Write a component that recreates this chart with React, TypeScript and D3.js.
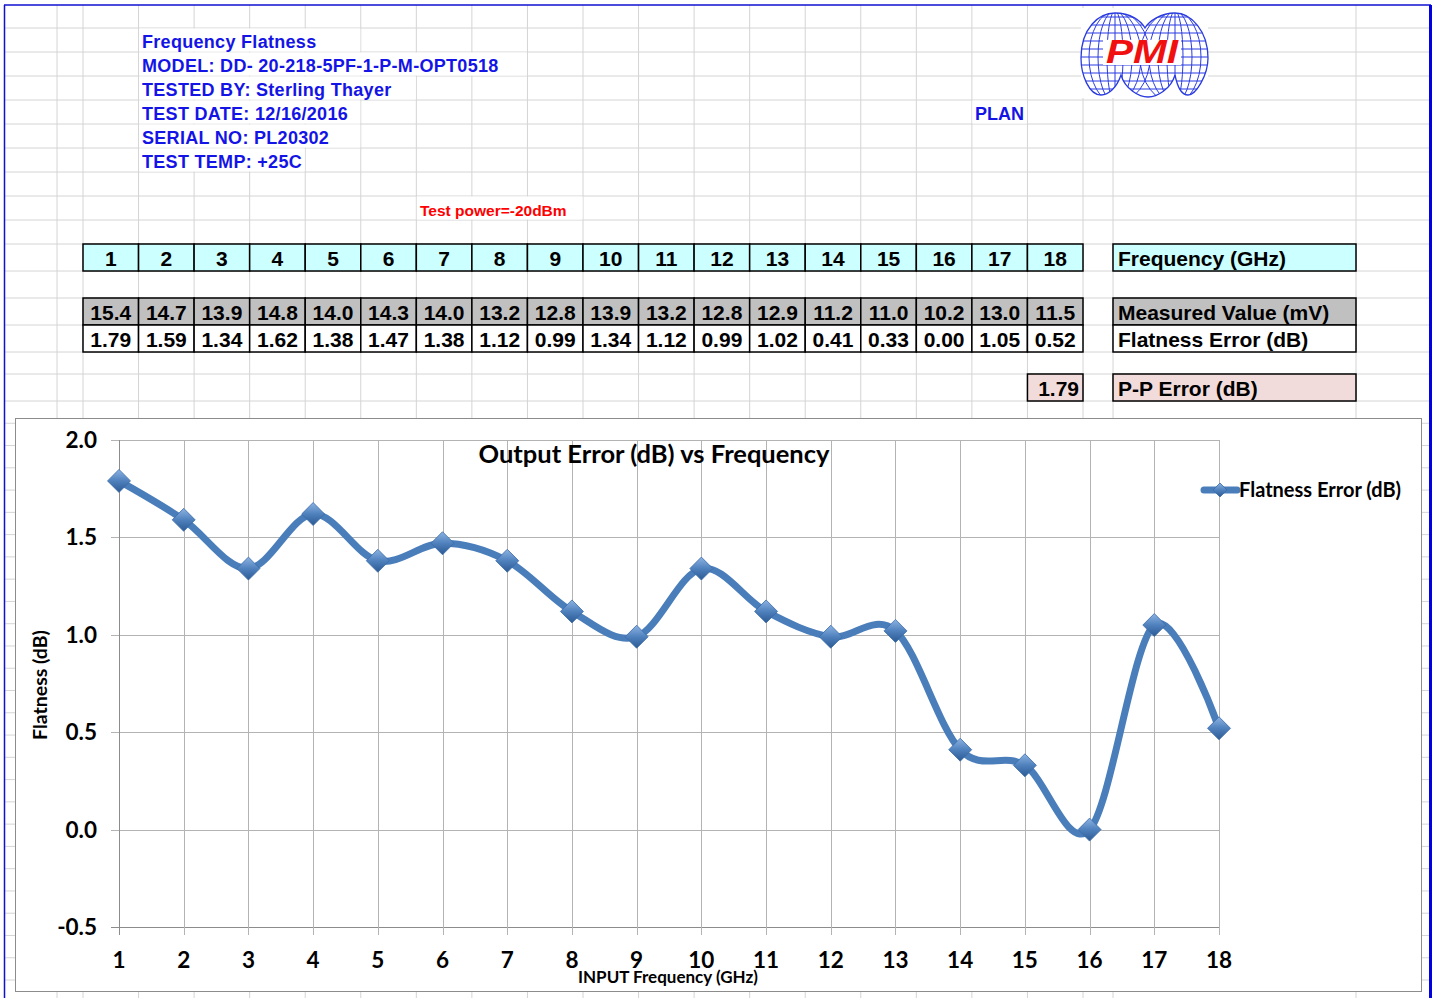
import React, { useEffect, useRef } from 'react';
import * as d3 from 'd3';

// test data
const freqs = [1, 2, 3, 4, 5, 6, 7, 8, 9, 10, 11, 12, 13, 14, 15, 16, 17, 18];
const measured = [15.4, 14.7, 13.9, 14.8, 14.0, 14.3, 14.0, 13.2, 12.8, 13.9, 13.2, 12.8, 12.9, 11.2, 11.0, 10.2, 13.0, 11.5];
const flatness = [1.79, 1.59, 1.34, 1.62, 1.38, 1.47, 1.38, 1.12, 0.99, 1.34, 1.12, 0.99, 1.02, 0.41, 0.33, 0.0, 1.05, 0.52];
const ppError = 1.79;
const yTicks = [-0.5, 0, 0.5, 1.0, 1.5, 2.0];
const headerLines = [
  'Frequency Flatness',
  'MODEL: DD- 20-218-5PF-1-P-M-OPT0518',
  'TESTED BY: Sterling Thayer',
  'TEST DATE: 12/16/2016',
  'SERIAL NO: PL20302',
  'TEST TEMP: +25C',
];
const rowLabels = ['Frequency (GHz)', 'Measured Value (mV)', 'Flatness Error (dB)', 'P-P Error (dB)'];

const W = 1435;
const H = 998;
const colW = (1083 - 83) / 18;
const colLines = [57, ...d3.range(19).map((k) => 83 + k * colW), 1113, 1356];
const rowLines = [28, 52, 76, 100, 124, 148, 172, 196, 220, 244, 271, 298, 325, 352, 374, 401]
  .concat(d3.range(1, 27).map((k) => 401 + k * 22.27));

const ARIAL = '"Liberation Sans", Arial, sans-serif';
const CALI = 'Lato, "Open Sans", sans-serif';
const BLUE = '#1414E6';
const LINE = '#4A7EBB';

const Logo = () => {
  const ox = 1081;
  const oy = 13;
  const outline =
    'M0,45 C0,15 18,0 34,0 C50,0 60,8 64,15 C68,8 80,0 94,0 C110,0 127,18 127,45 ' +
    'C127,62 115,82 107,82 C100,82 96,72 94,62 C90,76 76,84 67,84 C58,84 44,76 40,62 ' +
    'C36,74 28,82 20,82 C8,82 0,62 0,45 Z';
  const lobes = [34, 94];
  return (
    <g transform={`translate(${ox},${oy})`}>
      <rect x={0} y={-5} width={127} height={90} fill="#fff" />
      <defs>
        <clipPath id="logoClip">
          <path d={outline} />
        </clipPath>
      </defs>
      <g clipPath="url(#logoClip)" stroke="#2A3BE0" strokeWidth={1} fill="none">
        {d3.range(4, 84, 8).map((y) => (
          <line key={'h' + y} x1={0} x2={127} y1={y} y2={y} />
        ))}
        {lobes.map((cx) => (
          <g key={cx}>
            <line x1={cx} x2={cx} y1={0} y2={90} />
            {[8, 17, 26, 35].map((rx) => (
              <ellipse key={rx} cx={cx} cy={44} rx={rx} ry={46} />
            ))}
          </g>
        ))}
      </g>
      <path d={outline} fill="none" stroke="#2A3BE0" strokeWidth={1.3} />
      <rect x={22} y={27} width={78} height={25} fill="#fff" />
      <text x={25} y={50} fontFamily={ARIAL} fontWeight="bold" fontStyle="italic" fontSize={33}
        fill="#F01010" textLength={72} lengthAdjust="spacingAndGlyphs">PMI</text>
    </g>
  );
};

const App = () => {
  const maskRef = useRef<SVGGElement>(null);
  const textRef = useRef<SVGGElement>(null);

  const x = d3.scaleLinear().domain([1, 18]).range([119, 1219]);
  const y = d3.scaleLinear().domain([-0.5, 2.0]).range([927, 440]);
  const line = d3.line<number>()
    .x((d, i) => x(freqs[i]))
    .y((d) => y(d))
    .curve(d3.curveCardinal.tension(0));

  // hide sheet gridlines behind overflowing text, like Excel does
  useEffect(() => {
    const g = d3.select(maskRef.current);
    g.selectAll('*').remove();
    d3.select(textRef.current).selectAll<SVGTextElement, unknown>('text').each(function () {
      const x0 = +this.getAttribute('x')!;
      const top = +this.getAttribute('data-top')!;
      const bot = +this.getAttribute('data-bot')!;
      const end = x0 + this.getComputedTextLength();
      const right = colLines.find((c) => c > end) ?? end;
      const left = colLines.filter((c) => c < x0).pop() ?? x0;
      g.append('rect')
        .attr('x', left + 0.5).attr('y', top + 0.5)
        .attr('width', right - left - 1).attr('height', bot - top - 1)
        .attr('fill', '#fff');
    });
  }, []);

  const diamond = (cx: number, cy: number, r: number) =>
    `M${cx},${cy - r} L${cx + r},${cy} L${cx},${cy + r} L${cx - r},${cy} Z`;

  const rowY = [244, 298, 325, 374];
  const rowH = [27, 27, 27, 27];

  return (
    <svg width={W} height={H} style={{ position: 'absolute', left: 0, top: 0, background: '#fff' }}>
      <defs>
        <linearGradient id="mk" x1="0" y1="0" x2="0" y2="1">
          <stop offset="0" stopColor="#8DB3E2" />
          <stop offset="0.5" stopColor="#4F81BD" />
          <stop offset="1" stopColor="#2C5A93" />
        </linearGradient>
      </defs>

      {/* sheet gridlines */}
      <g stroke="#D4D4D4" strokeWidth={1}>
        {rowLines.map((r) => (
          <line key={'r' + r} x1={4} x2={1431} y1={r} y2={r} />
        ))}
        {colLines.map((c) => (
          <line key={'c' + c} x1={c} x2={c} y1={5} y2={H} />
        ))}
      </g>
      <g ref={maskRef} />

      {/* header text */}
      <g ref={textRef}>
        {headerLines.map((t, i) => (
          <text key={t} x={142} y={48 + i * 24} data-top={28 + i * 24} data-bot={52 + i * 24}
            fontFamily={ARIAL} fontWeight="bold" fontSize={18} letterSpacing={0.3} fill={BLUE}>{t}</text>
        ))}
        <text x={975} y={120} data-top={100} data-bot={124} fontFamily={ARIAL} fontWeight="bold"
          fontSize={18} fill={BLUE}>PLAN</text>
        <text x={420} y={216} data-top={196} data-bot={220} fontFamily={ARIAL} fontWeight="bold"
          fontSize={15.5} fill="#FF0000">Test power=-20dBm</text>
      </g>

      <Logo />

      {/* data table */}
      <g fontFamily={ARIAL} fontWeight="bold" fontSize={21} fill="#000">
        {freqs.map((f, i) => (
          <g key={'f' + f}>
            <rect x={83 + i * colW} y={rowY[0]} width={colW} height={rowH[0]} fill="#CCFFFF" stroke="#000" strokeWidth={1.5} />
            <text x={83 + (i + 0.5) * colW} y={rowY[0] + 22} textAnchor="middle">{f}</text>
            <rect x={83 + i * colW} y={rowY[1]} width={colW} height={rowH[1]} fill="#C0C0C0" stroke="#000" strokeWidth={1.5} />
            <text x={83 + (i + 0.5) * colW} y={rowY[1] + 22} textAnchor="middle">{measured[i].toFixed(1)}</text>
            <rect x={83 + i * colW} y={rowY[2]} width={colW} height={rowH[2]} fill="#fff" stroke="#000" strokeWidth={1.5} />
            <text x={83 + (i + 0.5) * colW} y={rowY[2] + 22} textAnchor="middle">{flatness[i].toFixed(2)}</text>
          </g>
        ))}
        <rect x={83 + 17 * colW} y={rowY[3]} width={colW} height={rowH[3]} fill="#F2DCDB" stroke="#000" strokeWidth={1.5} />
        <text x={83 + 18 * colW - 4} y={rowY[3] + 22} textAnchor="end">{ppError.toFixed(2)}</text>
        {rowLabels.map((t, i) => (
          <g key={t}>
            <rect x={1113} y={rowY[i]} width={243} height={rowH[i]}
              fill={['#CCFFFF', '#C0C0C0', '#fff', '#F2DCDB'][i]} stroke="#000" strokeWidth={1.5} />
            <text x={1118} y={rowY[i] + 22}>{t}</text>
          </g>
        ))}
      </g>

      {/* chart area */}
      <rect x={15.5} y={418.5} width={1406} height={573} fill="#fff" stroke="#8C8C8C" strokeWidth={1} />
      <g stroke="#B3B3B3" strokeWidth={1}>
        {yTicks.map((t) => (
          <line key={'gy' + t} x1={111} x2={x(18)} y1={Math.round(y(t)) + 0.5} y2={Math.round(y(t)) + 0.5}
            stroke={t === -0.5 ? '#8C8C8C' : '#B3B3B3'} />
        ))}
        {freqs.map((f) => (
          <line key={'gx' + f} x1={Math.round(x(f)) + 0.5} x2={Math.round(x(f)) + 0.5} y1={y(2)} y2={y(-0.5) + 8}
            stroke={f === 1 ? '#8C8C8C' : '#B3B3B3'} />
        ))}
      </g>
      <g fontFamily={CALI} fontWeight="bold" fontSize={22.5} fill="#000">
        {yTicks.map((t) => (
          <text key={'yl' + t} x={97} y={y(t) + 8} textAnchor="end">{t.toFixed(1)}</text>
        ))}
        {freqs.map((f) => (
          <text key={'xl' + f} x={x(f)} y={968} textAnchor="middle">{f}</text>
        ))}
      </g>
      <text x={654} y={463} textAnchor="middle" fontFamily={CALI} fontWeight="bold" fontSize={25.5}>
        Output Error (dB) vs Frequency
      </text>
      <text x={668} y={983} textAnchor="middle" fontFamily={CALI} fontWeight="bold" fontSize={17}>
        INPUT Frequency (GHz)
      </text>
      <text transform="translate(47,685) rotate(-90)" textAnchor="middle" fontFamily={CALI}
        fontWeight="bold" fontSize={19.5}>Flatness (dB)</text>

      {/* series */}
      <path d={line(flatness) ?? ''} fill="none" stroke={LINE} strokeWidth={7} strokeLinecap="round" />
      {flatness.map((v, i) => (
        <path key={'m' + i} d={diamond(x(freqs[i]), y(v), 11.5)} fill="url(#mk)" stroke="#3A6BA8" strokeWidth={0.8} />
      ))}

      {/* legend */}
      <line x1={1204} x2={1237} y1={490} y2={490} stroke={LINE} strokeWidth={7} strokeLinecap="round" />
      <path d={diamond(1220, 490, 7)} fill="url(#mk)" stroke="#3A6BA8" strokeWidth={0.8} />
      <text x={1239} y={497} fontFamily={CALI} fontWeight="bold" fontSize={20}>Flatness Error (dB)</text>

      {/* sheet border */}
      <line x1={4} x2={1431} y1={5} y2={5} stroke="#1010D0" strokeWidth={1.5} />
      <line x1={4.5} x2={4.5} y1={5} y2={H} stroke="#1010D0" strokeWidth={1.5} />
      <line x1={1430.5} x2={1430.5} y1={5} y2={H} stroke="#0000E0" strokeWidth={3} />
    </svg>
  );
};

export default App;
